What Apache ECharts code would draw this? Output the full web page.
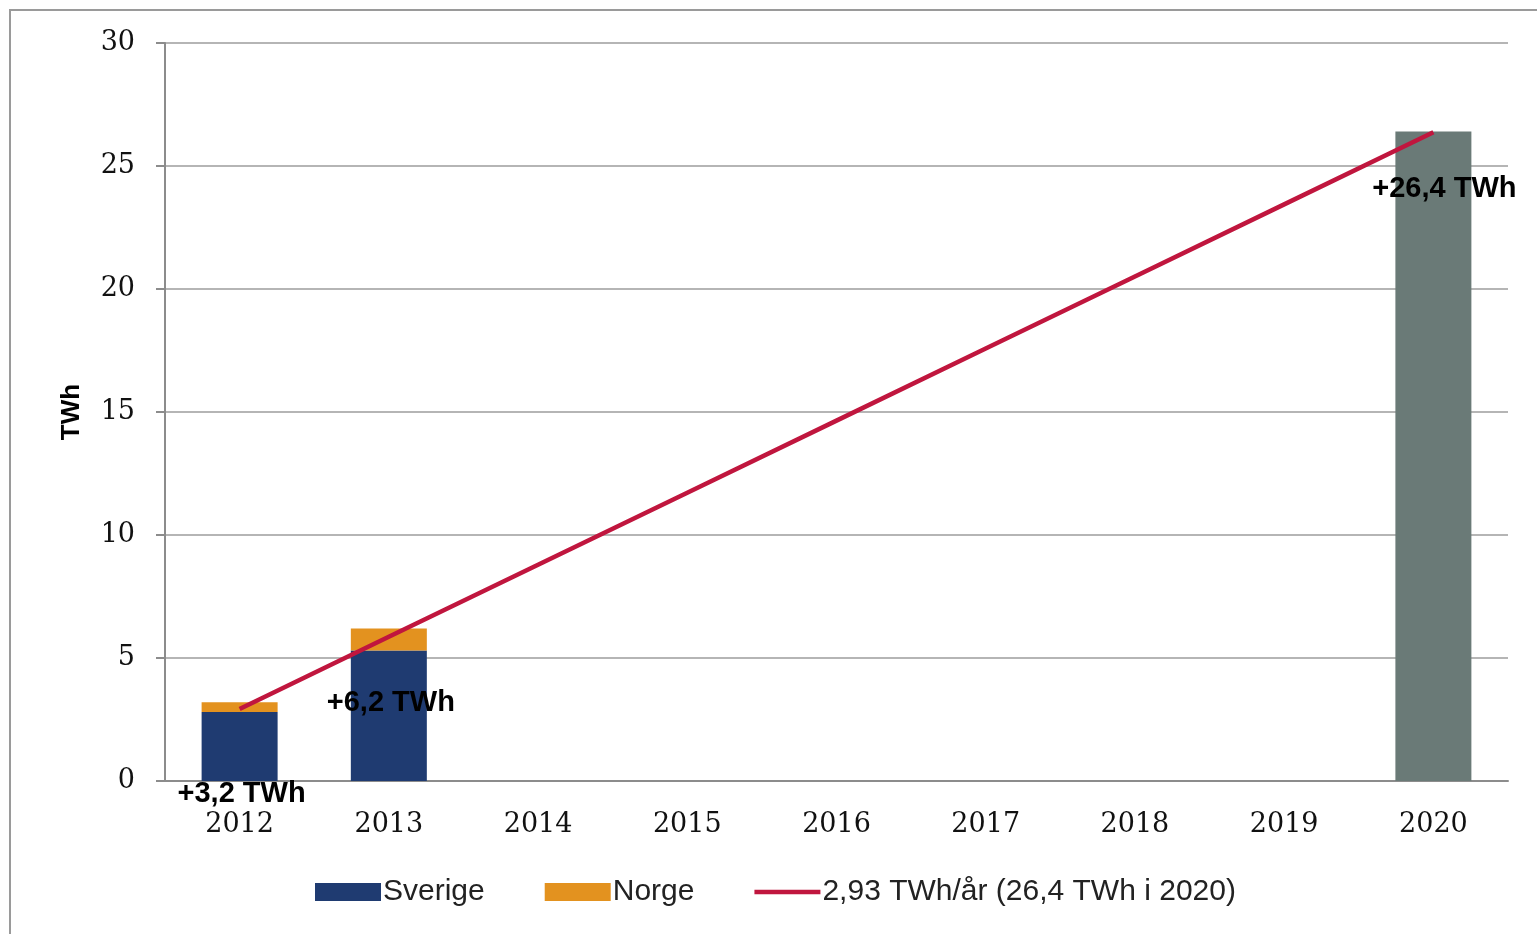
<!DOCTYPE html>
<html>
<head>
<meta charset="utf-8">
<script src="https://cdn.jsdelivr.net/npm/echarts@6/dist/echarts.min.js"></script>
<style>
html,body{margin:0;padding:0;background:#fff;}
#chart{width:1537px;height:934px;}
</style>
</head>
<body>
<div id="chart"></div>
<script>
const years = ['2012','2013','2014','2015','2016','2017','2018','2019','2020'];
const sverige = [2.8, 5.3, '-', '-', '-', '-', '-', '-', '-'];
const norge = [0.4, 0.9, '-', '-', '-', '-', '-', '-', '-'];
const target2020 = ['-', '-', '-', '-', '-', '-', '-', '-', 26.4];
const trend = [2.93, 5.86, 8.79, 11.72, 14.65, 17.58, 20.51, 23.44, 26.37];
const totalLabels = ['+3,2 TWh', '+6,2 TWh', '+26,4 TWh'];
const yTicks = [0, 5, 10, 15, 20, 25, 30];
const lineName = '2,93 TWh/år (26,4 TWh i 2020)';

const labelFont = {fontFamily:'Liberation Sans, Arial, sans-serif', fontWeight:'bold', fontSize:29, color:'#000'};
const axisFont = {fontFamily:'DejaVu Serif, Liberation Serif, serif', fontSize:27, color:'#111'};

const chart = echarts.init(document.getElementById('chart'));
chart.setOption({
  animation:false,
  graphic:[{type:'rect', shape:{x:10,y:10,width:1540,height:940}, style:{fill:'none', stroke:'#9a9a9a', lineWidth:2}, silent:true}],
  grid:{left:165, right:29, top:43, bottom:153},
  legend:{
    left:310, top:872,
    itemWidth:66, itemHeight:18, itemGap:60,
    textStyle:{fontFamily:'Liberation Sans, sans-serif', fontSize:30, color:'#222', padding:[0,0,0,-3]},
    data:[
      {name:'Sverige', icon:'rect'},
      {name:'Norge', icon:'rect'},
      {name:lineName, icon:'path://M0,0L70,0L70,5L0,5Z'}
    ]
  },
  xAxis:{
    type:'category', data:years,
    axisLine:{lineStyle:{color:'#8c8c8c', width:2}},
    axisTick:{show:false},
    axisLabel:{...axisFont, margin:30}
  },
  yAxis:{
    type:'value', min:yTicks[0], max:yTicks[yTicks.length-1], interval:5,
    name:'TWh', nameLocation:'middle', nameGap:80,
    nameTextStyle:{fontFamily:'Liberation Sans, Arial, sans-serif', fontWeight:'bold', fontSize:26, color:'#000'},
    axisLine:{show:true, lineStyle:{color:'#8c8c8c', width:2}},
    axisTick:{show:true, inside:false, length:9, lineStyle:{color:'#8c8c8c', width:2}},
    axisLabel:{...axisFont, margin:30},
    splitLine:{lineStyle:{color:'#9c9c9c', width:1.5}}
  },
  series:[
    {name:'Sverige', type:'bar', stack:'s', barWidth:76, itemStyle:{color:'#1f3b71'},
     data:sverige.map((v,i)=>{
       if(i===0) return {value:v, label:{show:true, position:'bottom', distance:-2, offset:[2,0], formatter:totalLabels[0], ...labelFont}};
       if(i===1) return {value:v, label:{show:true, position:'insideTop', distance:38, offset:[2,0], formatter:totalLabels[1], ...labelFont}};
       return v;
     })},
    {name:'Norge', type:'bar', stack:'s', barWidth:76, itemStyle:{color:'#e3921f'}, data:norge},
    {name:'2020', type:'bar', stack:'s', barWidth:76, itemStyle:{color:'#6a7a77'},
     data:target2020.map((v,i)=> i===8 ? {value:v, label:{show:true, position:'insideTop', distance:43, offset:[11,0], formatter:totalLabels[2], ...labelFont}} : v)},
    {name:lineName, type:'line', data:trend, symbol:'none', z:5,
     lineStyle:{color:'#c0163e', width:4.5}, itemStyle:{color:'#c0163e'}}
  ]
});
</script>
</body>
</html>
